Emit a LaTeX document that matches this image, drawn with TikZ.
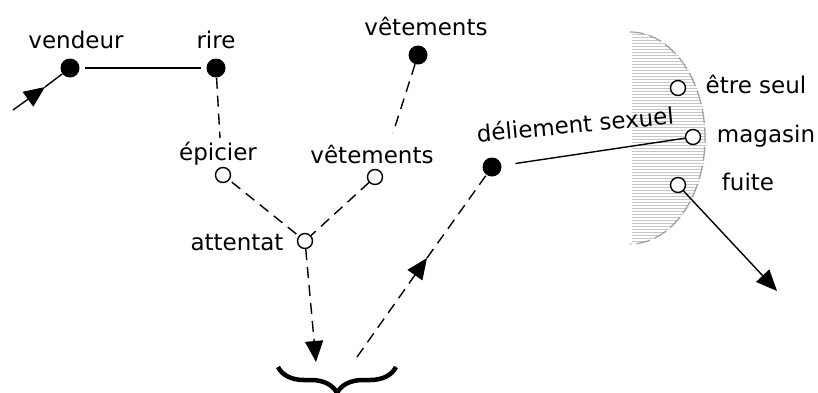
\documentclass[tikz,border=0pt]{standalone}
\usepackage{fontspec}
\setmainfont{DejaVu Sans}
\usepackage{tikz}
\usetikzlibrary{arrows.meta}
\usetikzlibrary{decorations.pathreplacing}
\usetikzlibrary{patterns}
\tikzstyle{NodeFull}=[circle,fill=black,inner sep=0pt,minimum size=19pt]
\tikzstyle{NodeOpen}=[circle,draw=black,fill=white,line width=1.4pt,inner sep=0pt,minimum size=15pt]
\tikzstyle{NodeText}=[inner sep=0pt,anchor=base,font=\fontsize{23}{26}\selectfont]
\tikzstyle{EdgeSolid}=[line width=1.4pt]
\tikzstyle{EdgeDash}=[line width=1.4pt,dash pattern=on 11pt off 7pt]
\tikzstyle{TipBig}=[-{Triangle[length=21pt,width=18pt]}]

\begin{document}
\begin{tikzpicture}[x=1pt,y=-1pt]
        \useasboundingbox(0,0)rectangle(818,392);
        % zone hachuree
        \fill[pattern=horizontal lines,pattern color=gray!45](632,32)arc[start angle=-90,end angle=90,x radius=74,y radius=106]--cycle;
        \draw[gray!75,line width=1.2pt,dash pattern=on 14pt off 5pt](630,32)arc[start angle=-90,end angle=90,x radius=75,y radius=106];
        % points
        \node[NodeFull](vendeur)at(70,68){};
        \node[NodeFull](rire)at(216,68){};
        \node[NodeFull](vetHaut)at(418,55){};
        \node[NodeFull](deliement)at(492,167){};
        \node[NodeOpen](epicier)at(223,175){};
        \node[NodeOpen](vetBas)at(375,177){};
        \node[NodeOpen](attentat)at(305,241){};
        \node[NodeOpen](etreSeul)at(678,88){};
        \node[NodeOpen](magasin)at(693,137){};
        \node[NodeOpen](fuite)at(678,185){};
        % textes
        \node[NodeText](vendeurLbl)at(76,48){vendeur};
        \node[NodeText](rireLbl)at(216,48){rire};
        \node[NodeText](vetHautLbl)at(426,35){vêtements};
        \node[NodeText](vetBasLbl)at(372,163){vêtements};
        \node[NodeText](epicierLbl)at(218,160){épicier};
        \node[NodeText](attentatLbl)at(237,250){attentat};
        \node[NodeText,rotate=5.4](deliementLbl)at(576,133){déliement sexuel};
        \node[NodeText](etreSeulLbl)at(756,93){être seul};
        \node[NodeText](magasinLbl)at(766,142){magasin};
        \node[NodeText](fuiteLbl)at(748,190){fuite};
        % bouts libres
        \coordinate(entree)at(13,110);
        \coordinate(entreePointe)at(45,87);
        \coordinate(rireFin)at(220,138);
        \coordinate(vetFin)at(393,133);
        \coordinate(attFin)at(316,362);
        \coordinate(accoladeG)at(278,367);
        \coordinate(accoladeD)at(396,367);
        \coordinate(remontee)at(357,357);
        \coordinate(remonteePointe)at(427,258);
        \coordinate(sortie)at(777,291);
        % liens
        \draw[EdgeSolid,TipBig](entree)--(entreePointe);
        \draw[EdgeSolid](entreePointe)--(vendeur);
        \draw[EdgeSolid,shorten <=5pt,shorten >=5pt](vendeur)--(rire);
        \draw[EdgeDash](rire)--(rireFin);
        \draw[EdgeDash](vetHaut)--(vetFin);
        \draw[EdgeDash,shorten <=3pt](epicier)--(attentat);
        \draw[EdgeDash](vetBas)--(attentat);
        \draw[EdgeDash,TipBig](attentat)--(attFin);
        \draw[EdgeDash,TipBig](remontee)--(remonteePointe);
        \draw[EdgeDash](remonteePointe)--(deliement);
        \draw[EdgeSolid,shorten <=14pt](deliement)--(magasin);
        \draw[EdgeSolid,TipBig](fuite)--(sortie);
        \draw[line width=4.5pt,decorate,decoration={brace,mirror,amplitude=26pt}](accoladeG)--(accoladeD);
    \end{tikzpicture}
\end{document}
